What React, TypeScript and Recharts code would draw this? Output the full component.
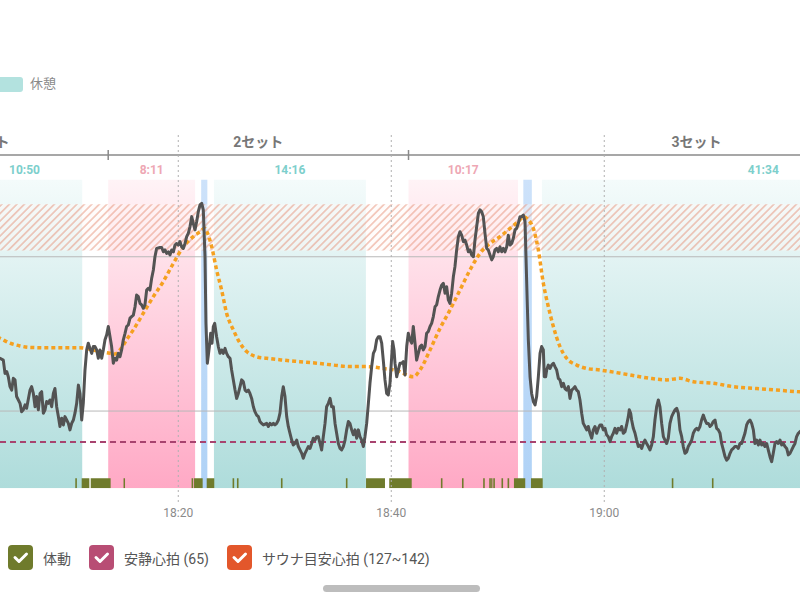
import React from 'react';
import { ComposedChart, Line, XAxis, YAxis, ReferenceArea, ReferenceLine } from 'recharts';

// time values are minutes after 18:00
const xDomain: [number, number] = [3.26, 78.38];
const yDomain: [number, number] = [50, 150];
const timeTicks = [20, 40, 60];
const gridValues = [75, 125];
const restingHR = 65;
const targetRange: [number, number] = [127, 142];

const restPeriods: [number, number][] = [[0.15, 10.98], [23.35, 37.62], [54.15, 95.72]];
const restLabels = ['10:50', '14:16', '41:34'];
const saunaPeriods: [number, number][] = [[13.42, 21.58], [41.62, 51.9]];
const saunaLabels = ['8:11', '10:17'];
const coldBathPeriods: [number, number][] = [[22.15, 22.73], [52.4, 53.2]];
const setNames = ['1セット', '2セット', '3セット'];
const setBounds = [-9.8, 13.42, 41.62, 95.72];

const movementPeriods: [number, number][] = [
  [10.33, 10.48], [10.93, 11.65], [11.78, 13.65], [14.86, 15.0], [21.25, 21.4], [21.48, 22.29],
  [22.67, 23.38], [25.1, 25.25], [25.51, 25.66], [29.64, 29.79], [35.74, 35.89], [37.63, 39.41],
  [39.81, 41.92], [44.66, 44.81], [46.64, 46.79], [48.63, 48.78], [49.2, 49.35], [49.38, 49.5],
  [49.58, 49.73], [50.35, 50.5], [50.92, 51.07], [51.52, 52.58], [53.12, 54.22], [66.34, 66.49],
  [70.11, 70.26],
];

const heartRate: [number, number][] = [
  [3.0, 92.5], [3.26, 92.1], [3.57, 91.5], [3.73, 87.2], [3.89, 87.8], [4.04, 86.1], [4.2, 82.9], [4.36, 81.8],
  [4.51, 85.6], [4.67, 85.1], [4.82, 79.7], [5.14, 77.5], [5.29, 74.8], [5.45, 75.4], [5.61, 77.0], [5.76, 75.9],
  [6.08, 81.8], [6.23, 82.9], [6.39, 80.7], [6.55, 76.4], [6.7, 79.7], [6.86, 75.4], [7.02, 80.7], [7.17, 81.3],
  [7.33, 74.3], [7.49, 75.4], [7.64, 78.1], [7.8, 77.5], [7.95, 78.6], [8.11, 76.4], [8.27, 80.7], [8.42, 82.3],
  [8.58, 76.4], [8.74, 73.2], [8.89, 70.0], [9.05, 72.7], [9.21, 70.5], [9.36, 73.2], [9.52, 72.1], [9.68, 71.0],
  [9.83, 68.9], [9.99, 71.0], [10.15, 72.1], [10.3, 74.3], [10.46, 77.5], [10.62, 83.4], [10.77, 80.7], [10.93, 72.1],
  [11.08, 77.5], [11.24, 88.3], [11.4, 94.8], [11.55, 97.0], [11.71, 95.3], [11.87, 93.7], [12.02, 95.9], [12.18, 95.9],
  [12.34, 94.8], [12.49, 92.1], [12.65, 94.8], [12.81, 92.1], [12.96, 94.8], [13.12, 98.1], [13.28, 99.7], [13.43, 102.4],
  [13.59, 99.1], [13.74, 95.9], [13.9, 90.5], [14.06, 92.1], [14.21, 91.5], [14.37, 93.7], [14.53, 92.6], [14.68, 94.8],
  [14.84, 98.1], [15.0, 100.2], [15.15, 102.4], [15.31, 102.9], [15.47, 105.1], [15.62, 105.6], [15.78, 106.1], [15.94, 108.8],
  [16.09, 112.6], [16.25, 112.1], [16.41, 109.9], [16.56, 109.4], [16.72, 108.3], [16.87, 109.4], [17.03, 114.2], [17.19, 114.8],
  [17.34, 114.2], [17.5, 118.0], [17.66, 120.7], [17.81, 125.0], [17.97, 127.7], [18.28, 128.0], [18.44, 128.0], [18.6, 126.6],
  [18.75, 127.2], [18.91, 126.1], [19.07, 126.6], [19.22, 125.6], [19.38, 127.2], [19.54, 126.6], [19.69, 128.8], [19.85, 129.3],
  [20.0, 128.8], [20.16, 129.9], [20.32, 128.2], [20.47, 127.7], [20.63, 129.3], [20.79, 131.5], [20.94, 132.6], [21.1, 134.7],
  [21.26, 138.0], [21.41, 135.8], [21.57, 133.7], [21.73, 136.4], [21.88, 139.6], [22.04, 141.8], [22.2, 142.3], [22.35, 140.2],
  [22.51, 125.0], [22.6, 103.4], [22.73, 90.5], [22.92, 95.9], [23.04, 100.2], [23.17, 97.0], [23.29, 102.4], [23.42, 103.4],
  [23.6, 99.1], [23.76, 95.9], [23.92, 93.7], [24.07, 94.8], [24.23, 93.7], [24.39, 95.3], [24.54, 93.7], [24.7, 92.6],
  [24.86, 92.1], [25.01, 88.3], [25.17, 85.1], [25.33, 81.8], [25.48, 79.1], [25.64, 80.7], [25.8, 82.9], [25.95, 85.1],
  [26.11, 84.5], [26.27, 81.8], [26.42, 81.3], [26.58, 81.8], [26.73, 80.7], [26.89, 79.1], [27.05, 76.4], [27.2, 74.8],
  [27.36, 73.7], [27.52, 73.2], [27.67, 71.6], [27.83, 71.0], [27.99, 70.5], [28.3, 71.0], [28.46, 70.0], [28.61, 71.0],
  [28.77, 70.5], [28.93, 71.0], [29.08, 70.5], [29.24, 71.0], [29.4, 72.1], [29.55, 74.3], [29.71, 79.7], [29.86, 82.9],
  [30.02, 79.7], [30.18, 73.2], [30.33, 70.0], [30.49, 67.8], [30.65, 65.6], [30.8, 64.0], [30.96, 64.5], [31.12, 65.6],
  [31.27, 63.5], [31.43, 62.4], [31.59, 61.3], [31.74, 59.7], [31.9, 61.3], [32.06, 62.4], [32.21, 63.5], [32.37, 62.9],
  [32.53, 64.5], [32.68, 66.2], [32.84, 65.6], [32.99, 66.7], [33.15, 66.7], [33.31, 64.5], [33.46, 62.4], [33.62, 66.7],
  [33.78, 71.0], [33.93, 76.4], [34.09, 77.5], [34.25, 79.1], [34.4, 76.4], [34.56, 76.4], [34.72, 71.0], [34.87, 67.8],
  [35.03, 64.5], [35.19, 62.9], [35.34, 62.4], [35.5, 63.5], [35.66, 65.6], [35.81, 68.9], [35.97, 71.6], [36.12, 71.0],
  [36.28, 68.9], [36.44, 67.3], [36.59, 68.9], [36.75, 66.2], [36.91, 68.9], [37.06, 66.7], [37.22, 65.6], [37.38, 63.5],
  [37.53, 66.7], [37.69, 71.0], [37.85, 77.5], [38.0, 84.0], [38.16, 89.4], [38.32, 93.7], [38.47, 94.8], [38.63, 98.1],
  [38.79, 99.1], [38.94, 99.1], [39.1, 97.0], [39.25, 91.5], [39.41, 85.1], [39.57, 80.7], [39.72, 80.2], [39.88, 84.0],
  [40.04, 92.6], [40.13, 97.5], [40.26, 94.8], [40.35, 90.5], [40.51, 86.1], [40.66, 88.3], [40.82, 90.5], [40.98, 90.5],
  [41.13, 91.0], [41.29, 86.7], [41.45, 95.9], [41.6, 100.2], [41.76, 98.1], [41.92, 97.0], [42.07, 102.4], [42.23, 97.0],
  [42.38, 91.5], [42.54, 93.7], [42.7, 95.9], [42.85, 96.4], [43.01, 94.8], [43.17, 95.9], [43.32, 100.2], [43.48, 100.8],
  [43.64, 102.4], [43.79, 103.4], [43.95, 105.6], [44.11, 108.8], [44.26, 109.4], [44.42, 112.1], [44.58, 114.2], [44.73, 115.8],
  [44.89, 116.4], [45.05, 113.2], [45.2, 115.3], [45.36, 111.0], [45.51, 109.9], [45.67, 113.2], [45.83, 118.5], [45.98, 121.8],
  [46.14, 127.2], [46.3, 131.5], [46.45, 133.1], [46.61, 132.0], [46.77, 129.9], [46.92, 130.4], [47.08, 128.8], [47.24, 126.6],
  [47.39, 127.2], [47.55, 125.6], [47.71, 125.0], [47.86, 130.4], [48.02, 134.7], [48.18, 139.1], [48.33, 140.2], [48.49, 139.6],
  [48.64, 138.0], [48.8, 132.6], [48.96, 127.7], [49.11, 127.2], [49.27, 125.6], [49.43, 124.0], [49.58, 125.0], [49.74, 127.2],
  [49.9, 127.7], [50.05, 126.6], [50.21, 128.2], [50.37, 126.6], [50.52, 127.7], [50.68, 126.6], [50.84, 128.2], [50.99, 132.0],
  [51.15, 128.8], [51.31, 129.3], [51.46, 131.0], [51.62, 133.7], [51.77, 134.2], [51.93, 135.8], [52.09, 138.0], [52.24, 138.0],
  [52.4, 138.5], [52.56, 136.4], [52.65, 125.0], [52.78, 108.8], [52.87, 98.1], [53.03, 86.1], [53.18, 80.7], [53.34, 78.1],
  [53.5, 77.0], [53.65, 79.7], [53.81, 86.1], [53.97, 93.7], [54.12, 95.9], [54.28, 94.8], [54.37, 86.1], [54.5, 86.1],
  [54.59, 88.3], [54.75, 89.9], [54.9, 88.8], [55.06, 89.9], [55.22, 90.5], [55.37, 89.4], [55.53, 88.3], [55.69, 85.6],
  [55.84, 85.1], [56.0, 82.9], [56.16, 84.0], [56.31, 82.3], [56.47, 81.8], [56.63, 82.9], [56.78, 79.1], [56.94, 81.8],
  [57.1, 82.3], [57.25, 82.9], [57.41, 81.8], [57.56, 81.3], [57.72, 78.6], [57.88, 74.3], [58.03, 71.0], [58.19, 70.0],
  [58.35, 68.9], [58.5, 70.0], [58.66, 67.8], [58.82, 66.2], [58.97, 68.9], [59.13, 70.0], [59.29, 67.8], [59.44, 69.4],
  [59.6, 70.5], [59.76, 70.5], [59.91, 68.9], [60.07, 69.4], [60.22, 67.3], [60.38, 66.7], [60.54, 65.1], [60.69, 66.7],
  [60.85, 67.8], [61.01, 69.4], [61.16, 67.8], [61.32, 69.4], [61.48, 68.9], [61.63, 70.0], [61.79, 67.8], [61.95, 68.3],
  [62.1, 70.5], [62.26, 73.2], [62.35, 75.4], [62.48, 74.3], [62.57, 72.1], [62.73, 69.4], [62.89, 67.8], [63.04, 65.6],
  [63.2, 63.5], [63.35, 64.0], [63.51, 62.9], [63.67, 64.5], [63.82, 65.6], [63.98, 64.5], [64.14, 63.5], [64.29, 62.4],
  [64.45, 64.0], [64.61, 66.7], [64.76, 72.1], [64.92, 76.4], [65.08, 78.6], [65.23, 76.4], [65.39, 71.0], [65.55, 66.7],
  [65.7, 65.6], [65.86, 64.5], [66.01, 66.2], [66.17, 71.0], [66.33, 73.2], [66.48, 74.3], [66.64, 75.4], [66.8, 75.9],
  [66.95, 74.3], [67.11, 68.9], [67.27, 66.7], [67.42, 63.5], [67.58, 61.3], [67.74, 61.8], [67.89, 63.5], [68.05, 64.5],
  [68.21, 65.6], [68.36, 67.8], [68.52, 68.9], [68.68, 69.4], [68.83, 68.9], [68.99, 70.0], [69.14, 72.1], [69.3, 73.7],
  [69.46, 72.1], [69.61, 71.0], [69.77, 71.0], [69.93, 70.0], [70.08, 70.5], [70.24, 71.6], [70.4, 72.1], [70.55, 69.4],
  [70.71, 68.9], [70.87, 67.8], [71.02, 64.5], [71.18, 62.4], [71.34, 60.2], [71.49, 59.1], [71.65, 59.7], [71.81, 61.3],
  [71.96, 62.4], [72.12, 62.9], [72.27, 63.5], [72.43, 63.5], [72.59, 62.9], [72.74, 64.5], [72.9, 64.5], [73.06, 66.2],
  [73.21, 67.8], [73.37, 70.5], [73.53, 71.6], [73.68, 72.1], [73.84, 71.0], [74.0, 68.9], [74.15, 64.5], [74.31, 65.6],
  [74.47, 64.0], [74.62, 65.6], [74.78, 64.0], [74.93, 64.5], [75.09, 63.5], [75.25, 64.5], [75.4, 62.4], [75.56, 60.2],
  [75.72, 58.6], [75.87, 61.3], [76.03, 64.5], [76.19, 65.1], [76.34, 64.5], [76.5, 65.6], [76.66, 64.0], [76.81, 64.5],
  [76.97, 63.5], [77.13, 62.9], [77.28, 60.8], [77.44, 61.3], [77.6, 62.4], [77.75, 63.5], [77.91, 64.5], [78.06, 66.7],
  [78.22, 67.8], [78.38, 68.3], [78.6, 69.0],
];

const heartRateTrend: [number, number][] = [
  [3.0, 99.0], [3.26, 98.6], [4.2, 97.0], [5.14, 96.1], [6.08, 95.6], [7.95, 95.5], [10.77, 95.5], [11.71, 95.0],
  [12.65, 94.3], [13.59, 93.7], [14.06, 93.5], [14.53, 94.8], [15.15, 98.1], [15.78, 101.3], [16.72, 106.7], [17.66, 112.1],
  [18.6, 117.0], [19.54, 122.9], [20.47, 128.2], [21.41, 131.5], [22.04, 133.1], [22.5, 134.2], [22.75, 132.6], [23.14, 128.2],
  [23.6, 120.7], [24.07, 114.2], [24.54, 106.7], [25.17, 101.3], [25.8, 97.0], [26.42, 94.3], [27.36, 92.6], [28.3, 92.1],
  [29.86, 91.5], [31.43, 91.0], [32.99, 90.5], [34.56, 89.9], [36.12, 89.4], [37.69, 89.4], [39.25, 88.8], [40.82, 87.8],
  [41.45, 86.7], [42.07, 86.1], [42.7, 88.3], [43.64, 94.8], [44.58, 101.8], [45.51, 107.7], [46.45, 114.2], [47.39, 120.7],
  [48.33, 126.1], [49.27, 129.3], [50.21, 131.5], [51.15, 134.2], [51.93, 136.4], [52.4, 138.0], [52.87, 136.9], [53.34, 134.2],
  [53.81, 127.2], [54.28, 116.4], [54.75, 108.8], [55.22, 102.4], [55.84, 95.9], [56.47, 92.1], [57.41, 89.9], [58.35, 88.8],
  [59.6, 88.3], [60.54, 87.8], [62.42, 86.7], [64.29, 85.6], [65.86, 85.1], [67.11, 85.6], [68.36, 84.5], [70.24, 84.0],
  [72.12, 82.9], [74.31, 82.3], [76.19, 81.8], [78.06, 81.3], [78.6, 81.2],
];

const FONT = "Roboto, 'Noto Sans CJK JP', sans-serif";
const REST_COLOR = '#7dcfcc';
const SAUNA_COLOR = '#eea7b4';

const hrData = heartRate.map(([t, v]) => ({ t, hr: v }));
const trendData = heartRateTrend.map(([t, v]) => ({ t, trend: v }));

const fmtTime = (t: number) => {
  const h = 18 + Math.floor(t / 60);
  const m = Math.round(t % 60);
  return `${h}:${m < 10 ? '0' + m : m}`;
};

const durationLabel = (text: string, color: string) => (props: any) => {
  const vb = props.viewBox || {};
  return (
    <text x={vb.x + vb.width / 2} y={174} textAnchor="middle" fill={color} fontSize={12} fontWeight={700} fontFamily={FONT}>
      {text}
    </text>
  );
};

const setHeader = (name: string) => (props: any) => {
  const vb = props.viewBox || {};
  return (
    <g>
      <line x1={vb.x} x2={vb.x + vb.width} y1={155} y2={155} stroke="#8a8a8a" strokeWidth={1.5} />
      <line x1={vb.x} x2={vb.x} y1={150} y2={160} stroke="#8a8a8a" strokeWidth={1.5} />
      <text x={vb.x + vb.width / 2} y={147} textAnchor="middle" fill="#777" fontSize={14} fontWeight={700} fontFamily={FONT}>
        {name}
      </text>
    </g>
  );
};

const dottedTimeLine = (props: any) => (
  <line x1={props.x1} x2={props.x1} y1={135} y2={503} stroke="#b0b0b0" strokeWidth={1} strokeDasharray="2 3" />
);

const Check = ({ color }: { color: string }) => (
  <svg width={25} height={25} style={{ display: 'block' }}>
    <rect x={0} y={0} width={25} height={25} rx={4} fill={color} />
    <polyline points="7,12.5 11,16.5 18.5,9" fill="none" stroke="#fff" strokeWidth={3} strokeLinecap="round" strokeLinejoin="round" />
  </svg>
);

const legendItems = [
  { color: '#6f7b2c', text: '体動' },
  { color: '#b84d74', text: `安静心拍 (${restingHR})` },
  { color: '#e3572b', text: `サウナ目安心拍 (${targetRange[0]}~${targetRange[1]})` },
];

export default function App() {
  return (
    <div style={{ position: 'absolute', left: 0, top: 0, width: 800, height: 600, background: '#fff', overflow: 'hidden', fontFamily: FONT }}>
      <div style={{ position: 'absolute', left: -4, top: 77, width: 27, height: 15, background: '#b3e2df', borderRadius: 3 }} />
      <div style={{ position: 'absolute', left: 30, top: 75, fontSize: 13, color: '#8a8a8a', lineHeight: '18px' }}>休憩</div>

      <div style={{ position: 'absolute', left: 0, top: 0 }}>
        <ComposedChart width={800} height={600} margin={{ top: 179.6, right: 0, bottom: 81.8, left: 0 }}>
          <defs>
            <linearGradient id="restGrad" x1="0" y1="0" x2="0" y2="1">
              <stop offset="0%" stopColor="#f4fbfb" />
              <stop offset="100%" stopColor="#aedcdb" />
            </linearGradient>
            <linearGradient id="saunaGrad" x1="0" y1="0" x2="0" y2="1">
              <stop offset="0%" stopColor="#fff3f6" />
              <stop offset="100%" stopColor="#ffa9c5" />
            </linearGradient>
            <linearGradient id="coldGrad" x1="0" y1="0" x2="0" y2="1">
              <stop offset="0%" stopColor="#cde2fa" />
              <stop offset="100%" stopColor="#afd2f6" />
            </linearGradient>
            <pattern id="hatch" width="5.3" height="5.3" patternUnits="userSpaceOnUse" patternTransform="rotate(45)">
              <rect width="5.3" height="5.3" fill="rgba(255,248,245,0.4)" />
              <line x1="2.65" y1="0" x2="2.65" y2="5.3" stroke="rgba(224,124,96,0.72)" strokeWidth={1} />
            </pattern>
          </defs>
          <XAxis
            dataKey="t"
            type="number"
            domain={xDomain}
            allowDataOverflow
            ticks={timeTicks}
            interval={0}
            tickFormatter={fmtTime}
            axisLine={false}
            tickLine={false}
            height={30}
            tickMargin={14}
            tick={{ fill: '#8a8a8a', fontSize: 12, fontFamily: FONT }}
          />
          <YAxis hide width={0} type="number" domain={yDomain} allowDataOverflow />

          {restPeriods.map(([a, b], i) => (
            <ReferenceArea key={'r' + i} x1={a} x2={b} y1={yDomain[0]} y2={yDomain[1]} ifOverflow="hidden"
              fill="url(#restGrad)" fillOpacity={1} stroke="none" label={durationLabel(restLabels[i], REST_COLOR)} />
          ))}
          {saunaPeriods.map(([a, b], i) => (
            <ReferenceArea key={'s' + i} x1={a} x2={b} y1={yDomain[0]} y2={yDomain[1]} ifOverflow="hidden"
              fill="url(#saunaGrad)" fillOpacity={1} stroke="none" label={durationLabel(saunaLabels[i], SAUNA_COLOR)} />
          ))}
          {coldBathPeriods.map(([a, b], i) => (
            <ReferenceArea key={'c' + i} x1={a} x2={b} y1={yDomain[0]} y2={yDomain[1]} ifOverflow="hidden"
              fill="url(#coldGrad)" fillOpacity={1} stroke="none" />
          ))}
          <ReferenceArea y1={targetRange[0]} y2={targetRange[1]} ifOverflow="hidden" fill="url(#hatch)" fillOpacity={1} stroke="none" />
          {setNames.map((name, i) => (
            <ReferenceArea key={'set' + i} x1={setBounds[i]} x2={setBounds[i + 1]} y1={yDomain[0]} y2={yDomain[1]}
              ifOverflow="visible" fill="none" stroke="none" label={setHeader(name)} />
          ))}
          {gridValues.map((v) => (
            <ReferenceLine key={'g' + v} y={v} stroke="#b9b9b9" strokeWidth={1} />
          ))}
          {timeTicks.map((t) => (
            <ReferenceLine key={'vt' + t} x={t} shape={dottedTimeLine} />
          ))}
          {movementPeriods.map(([a, b], i) => (
            <ReferenceArea key={'m' + i} x1={a} x2={b} y1={50} y2={53.2} ifOverflow="hidden"
              fill="#6f7b2c" fillOpacity={1} stroke="none" />
          ))}
          <ReferenceLine y={restingHR} stroke="#a8436f" strokeWidth={2} strokeDasharray="6 4" />
          <Line data={trendData} dataKey="trend" type="monotone" stroke="#f5a020" strokeWidth={3.5}
            strokeDasharray="4 3" dot={false} activeDot={false} isAnimationActive={false} />
          <Line data={hrData} dataKey="hr" type="linear" stroke="#535353" strokeWidth={3} strokeLinejoin="round"
            dot={false} activeDot={false} isAnimationActive={false} />
        </ComposedChart>
      </div>

      <div style={{ position: 'absolute', left: 8, top: 545, display: 'flex', alignItems: 'center', height: 25 }}>
        {legendItems.map((it) => (
          <div key={it.text} style={{ display: 'flex', alignItems: 'center', marginRight: 18 }}>
            <Check color={it.color} />
            <span style={{ marginLeft: 10, fontSize: 14, color: '#555', whiteSpace: 'nowrap' }}>{it.text}</span>
          </div>
        ))}
      </div>
      <div style={{ position: 'absolute', left: 323, top: 585, width: 157, height: 7, background: '#bdbdbd', borderRadius: 4 }} />
    </div>
  );
}
